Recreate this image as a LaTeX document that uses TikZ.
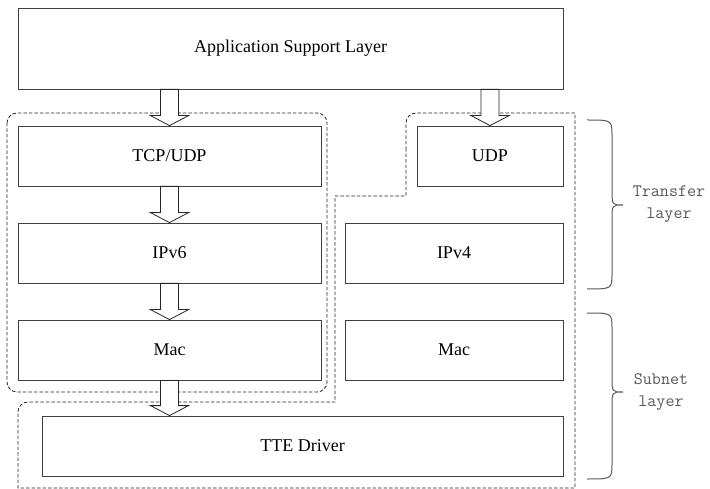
\documentclass[tikz,border=0pt]{standalone}
\usepackage{fontspec}
\setmainfont{Liberation Serif}
\usetikzlibrary{calc}
\tikzset{
  layerbox/.style={draw=black!75, line width=0.8pt, fill=white, inner sep=0pt, font=\fontsize{18}{20}\selectfont},
  region/.style={draw=black!85, dashed, dash pattern=on 3.5pt off 2pt, line width=0.8pt},
  blockarr/.style={draw=black!85, line width=0.8pt, fill=white},
  bracepath/.style={draw=black!65, line width=1pt},
  sidelabel/.style={text=black!65, font=\ttfamily\fontsize{17.5}{22}\selectfont, align=center}
}
\newcommand\blockarrow[3]{%
  \path let \p1=(#1.south), \p2=(#2.north), \p3=(#3) in
    [blockarr] (\x3-9pt,\y1) -- (\x3-9pt,\y2+10pt) -- (\x3-19pt,\y2+10pt) -- (\x3,\y2)
    -- (\x3+19pt,\y2+10pt) -- (\x3+9pt,\y2+10pt) -- (\x3+9pt,\y1) -- cycle;}
\begin{document}
\begin{tikzpicture}[x=1pt,y=-1pt]
\useasboundingbox (0,0) rectangle (710,489);
% dashed regions
\draw[region, rounded corners=10pt] (7,113) rectangle (327,392);
\draw[region] (406,150) [rounded corners=10pt]-- (406,113) [sharp corners]-- (575,113) -- (575,488) -- (18,488) [rounded corners=10pt]-- (18,402) [sharp corners]-- (335,402) -- (335,196) -- (406,196) -- (406,150);
% boxes
\node[layerbox, minimum width=545pt, minimum height=81pt] (app) at (290.5,48.5) {Application Support Layer};
\node[layerbox, minimum width=303pt, minimum height=60pt] (tcp) at (169.5,156) {TCP/UDP};
\node[layerbox, minimum width=303pt, minimum height=60pt] (ipv6) at (169.5,253) {IPv6};
\node[layerbox, minimum width=303pt, minimum height=60pt] (mac1) at (169.5,350) {Mac};
\node[layerbox, minimum width=146pt, minimum height=60pt] (udp) at (490,156) {UDP};
\node[layerbox, minimum width=218pt, minimum height=60pt] (ipv4) at (454,253) {IPv4};
\node[layerbox, minimum width=218pt, minimum height=60pt] (mac2) at (454,350) {Mac};
\node[layerbox, minimum width=521pt, minimum height=60pt] (tte) at (302.5,446) {TTE Driver};
% block arrows
\blockarrow{app}{tcp}{tcp.north}
\blockarrow{app}{udp}{udp.north}
\blockarrow{tcp}{ipv6}{ipv6.north}
\blockarrow{ipv6}{mac1}{mac1.north}
\blockarrow{mac1}{tte}{mac1.south}
% braces
\draw[bracepath] (587,120) .. controls (612,120) .. (612,136) -- (612,190) .. controls (612,205) .. (623,205)
  .. controls (612,205) .. (612,220) -- (612,273) .. controls (612,289) .. (587,289);
\draw[bracepath] (587,313) .. controls (612,313) .. (612,329) -- (612,377) .. controls (612,392) .. (623,392)
  .. controls (612,392) .. (612,407) -- (612,463) .. controls (612,479) .. (587,479);
\node[sidelabel] (transfer) at (669,204) {Transfer\\layer};
\node[sidelabel] (subnet) at (661,392) {Subnet\\layer};
\end{tikzpicture}
\end{document}
